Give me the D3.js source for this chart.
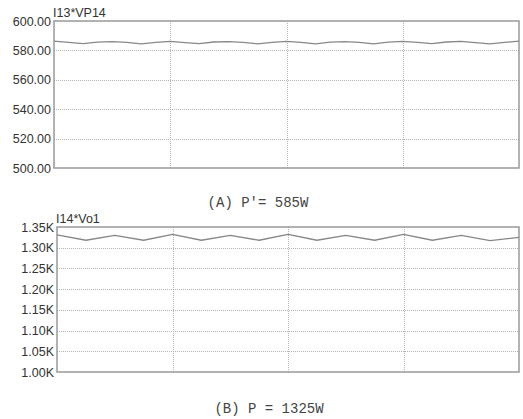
<!DOCTYPE html>
<html>
<head>
<meta charset="utf-8">
<script src="https://cdn.jsdelivr.net/npm/d3@7"></script>
<style>
  body { margin: 0; background: #fff; }
  text { font-family: "Liberation Sans", Arial, sans-serif; }
</style>
</head>
<body>
<svg id="graph" width="523" height="419"></svg>
<script>
// time axis, in grid divisions
var timeA = [0, 0.125, 0.25, 0.375, 0.5, 0.625, 0.75, 0.875,
             1, 1.125, 1.25, 1.375, 1.5, 1.625, 1.75, 1.875,
             2, 2.125, 2.25, 2.375, 2.5, 2.625, 2.75, 2.875,
             3, 3.125, 3.25, 3.375, 3.5, 3.625, 3.75, 3.875, 4];
// I13*VP14
var powerA = [586.3, 585.5, 584.6, 585.6, 586.0, 585.4, 584.5, 585.5,
              586.1, 585.3, 584.6, 585.7, 586.0, 585.4, 584.5, 585.4,
              586.2, 585.4, 584.5, 585.6, 586.0, 585.5, 584.5, 585.6,
              586.2, 585.4, 584.6, 585.7, 586.1, 585.3, 584.4, 585.5, 586.3];

var timeB = [0, 0.25, 0.5, 0.75, 1, 1.25, 1.5, 1.75,
             2, 2.25, 2.5, 2.75, 3, 3.25, 3.5, 3.75, 4];
// I14*Vo1
var powerB = [1331, 1318, 1330, 1318, 1332, 1318, 1330, 1318,
              1332, 1318, 1330, 1318, 1332, 1318, 1330, 1317, 1325];

var ticksA = [500, 520, 540, 560, 580, 600];
var ticksB = [1000, 1050, 1100, 1150, 1200, 1250, 1300, 1350];
var timeTicks = [0, 1, 2, 3, 4];

var svg = d3.select('#graph');

function drawPanel(opts) {
  var x = d3.scaleLinear().domain([0, 4]).range([opts.left, opts.right]);
  var y = d3.scaleLinear().domain(d3.extent(opts.ticks)).range([opts.bottom, opts.top]);
  var g = svg.append('g');

  // horizontal grid
  g.selectAll('.hgrid')
    .data(opts.ticks.slice(1, -1))
    .enter().append('line')
      .attr('x1', opts.left).attr('x2', opts.right)
      .attr('y1', function(d) { return Math.round(y(d)) + 0.5; })
      .attr('y2', function(d) { return Math.round(y(d)) + 0.5; })
      .attr('stroke', '#b4b4b4')
      .attr('stroke-dasharray', '1,1');

  // vertical grid
  g.selectAll('.vgrid')
    .data(timeTicks.slice(1, -1))
    .enter().append('line')
      .attr('x1', function(d) { return Math.round(x(d)) + 0.5; })
      .attr('x2', function(d) { return Math.round(x(d)) + 0.5; })
      .attr('y1', opts.top).attr('y2', opts.bottom)
      .attr('stroke', '#b4b4b4')
      .attr('stroke-dasharray', '1,1');

  // y tick labels
  g.selectAll('.ylab')
    .data(opts.ticks)
    .enter().append('text')
      .attr('x', opts.left - 3)
      .attr('y', function(d) { return y(d); })
      .attr('dy', '0.36em')
      .attr('text-anchor', 'end')
      .attr('font-size', 12.5)
      .attr('fill', '#333')
      .text(opts.format);

  // frame
  g.append('rect')
    .attr('x', opts.left).attr('y', opts.top)
    .attr('width', opts.right - opts.left)
    .attr('height', opts.bottom - opts.top)
    .attr('fill', 'none')
    .attr('stroke', '#999')
    .attr('stroke-width', 1.5);

  var line = d3.line()
    .x(function(d, i) { return x(opts.time[i]); })
    .y(function(d) { return y(d); });

  g.append('path')
    .datum(opts.values)
    .attr('fill', 'none')
    .attr('stroke', '#888')
    .attr('stroke-width', 1.3)
    .attr('stroke-linejoin', 'round')
    .attr('d', line);

  g.append('text')
    .attr('x', opts.left - 1)
    .attr('y', opts.top - 4)
    .attr('font-size', 12.5)
    .attr('fill', '#333')
    .text(opts.title);

  g.append('text')
    .attr('x', opts.capX)
    .attr('y', opts.capY)
    .attr('text-anchor', 'middle')
    .style('font-family', '"Liberation Mono", monospace')
    .attr('font-size', 14)
    .attr('fill', '#444')
    .style('white-space', 'pre')
    .text(opts.caption);
}

drawPanel({
  left: 54, right: 519, top: 21, bottom: 168,
  ticks: ticksA, time: timeA, values: powerA,
  format: function(d) { return d3.format('.2f')(d); },
  title: 'I13*VP14',
  caption: "(A) P'= 585W", capX: 258, capY: 207
});

drawPanel({
  left: 57, right: 519, top: 227, bottom: 372,
  ticks: ticksB, time: timeB, values: powerB,
  format: function(d) { return d3.format('.2f')(d / 1000) + 'K'; },
  title: 'I14*Vo1',
  caption: '(B) P = 1325W', capX: 269, capY: 413
});
</script>
</body>
</html>
